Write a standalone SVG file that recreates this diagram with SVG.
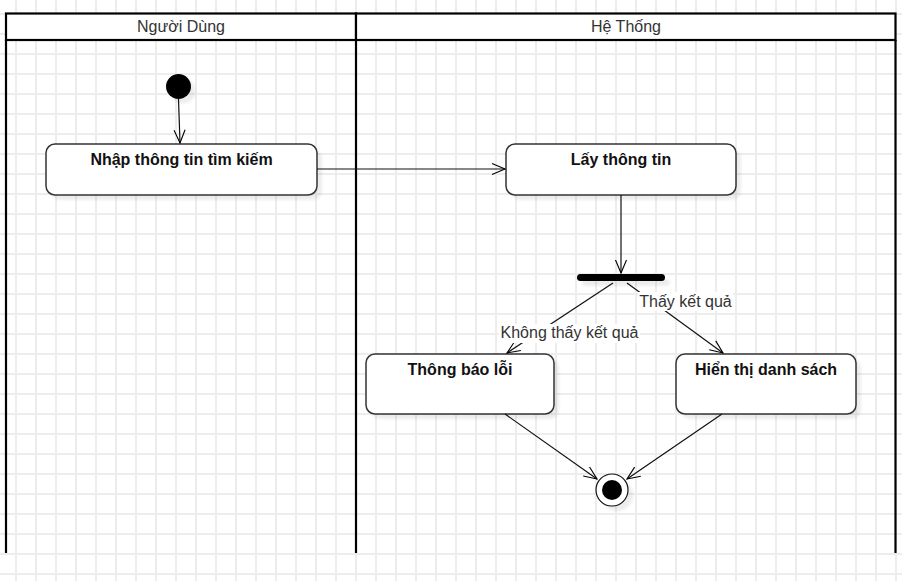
<svg xmlns="http://www.w3.org/2000/svg" width="902" height="581" viewBox="0 0 902 581">
  <defs>
    <pattern id="grid" x="0" y="0" width="20" height="20" patternUnits="userSpaceOnUse">
      <path d="M16,0 V20 M0,14 H20" stroke="#ededed" stroke-width="2" fill="none"/>
    </pattern>
    <filter id="blur" x="-20%" y="-20%" width="140%" height="140%">
      <feGaussianBlur stdDeviation="1.5"/>
    </filter>
    <marker id="open" markerUnits="userSpaceOnUse" markerWidth="16" markerHeight="14" viewBox="0 0 16 14" refX="14" refY="7" orient="auto">
      <path d="M1,1.5 L14,7 L1,12.5" fill="none" stroke="#000" stroke-width="1.1"/>
    </marker>
  </defs>
  <style>
    .lane { fill: none; stroke: #000; stroke-width: 2.2; }
    .hdr { fill: #fff; stroke: #000; stroke-width: 2.2; }
    .hdrtext { font-family: "Liberation Sans", Arial, sans-serif; font-size: 16px; fill: #333; text-anchor: middle; }
    .node { fill: #fff; stroke: #333; stroke-width: 1.5; }
    .shadow { fill: #000; opacity: 0.07; filter: url(#blur); }
    .label { font-family: "Liberation Sans", Arial, sans-serif; font-size: 16px; font-weight: bold; fill: #111; text-anchor: middle; }
    .edge { fill: none; stroke: #111; stroke-width: 1.2; marker-end: url(#open); }
    .elabel { font-family: "Liberation Sans", Arial, sans-serif; font-size: 16px; fill: #333; text-anchor: middle; }
  </style>

  <rect x="0" y="0" width="902" height="581" fill="#fff"/>
  <rect x="0" y="0" width="902" height="581" fill="url(#grid)"/>

  <g id="lanes">
    <rect class="hdr" x="6" y="13.5" width="350" height="26.5"/>
    <rect class="hdr" x="356" y="13.5" width="539.5" height="26.5"/>
    <path class="lane" d="M6,40 V553 M356,40 V553 M895.5,40 V553"/>
    <text class="hdrtext" x="181" y="32">Người Dùng</text>
    <text class="hdrtext" x="626" y="32">Hệ Thống</text>
  </g>

  <g id="start">
    <circle class="shadow" cx="183" cy="91" r="12.5"/>
    <circle cx="178.5" cy="86.5" r="12.5" fill="#000"/>
  </g>

  <g id="n-nhap">
    <rect class="shadow" x="51" y="149" width="271" height="51" rx="9"/>
    <rect class="node" x="46" y="144" width="271" height="51" rx="9"/>
    <text class="label" x="181.5" y="165">Nhập thông tin tìm kiếm</text>
  </g>

  <g id="n-lay">
    <rect class="shadow" x="511" y="149" width="230" height="51" rx="9"/>
    <rect class="node" x="506" y="144" width="230" height="51" rx="9"/>
    <text class="label" x="621" y="165">Lấy thông tin</text>
  </g>

  <g id="fork">
    <rect class="shadow" x="582" y="279" width="88" height="7" rx="3.5"/>
    <rect x="577" y="274" width="88" height="7" rx="3.5" fill="#000"/>
  </g>

  <g id="n-loi">
    <rect class="shadow" x="371" y="359" width="188" height="60" rx="9"/>
    <rect class="node" x="366" y="354" width="188" height="60" rx="9"/>
    <text class="label" x="460" y="375">Thông báo lỗi</text>
  </g>

  <g id="n-hienthi">
    <rect class="shadow" x="681" y="359" width="180" height="60" rx="9"/>
    <rect class="node" x="676" y="354" width="180" height="60" rx="9"/>
    <text class="label" x="766" y="375">Hiển thị danh sách</text>
  </g>

  <g id="end">
    <circle class="shadow" cx="617" cy="495" r="16"/>
    <circle cx="612" cy="490" r="16" fill="#fff" stroke="#111" stroke-width="1.2"/>
    <circle cx="612" cy="490" r="10" fill="#000"/>
  </g>

  <g id="connectors">
    <path class="edge" d="M178.5,99 L180,143"/>
    <path class="edge" d="M317,169 L505,169"/>
    <path class="edge" d="M621,195 L621,273"/>
    <path class="edge" d="M613,283 L507,353"/>
    <path class="edge" d="M627,283 L723,353"/>
    <path class="edge" d="M505,414 L597,479"/>
    <path class="edge" d="M722,414 L627,479"/>
    <rect x="499" y="324" width="141" height="19" fill="#fff"/>
    <text class="elabel" x="569.5" y="338">Không thấy kết quả</text>
    <rect x="638" y="292" width="95" height="19" fill="#fff"/>
    <text class="elabel" x="685.5" y="307">Thấy kết quả</text>
  </g>
</svg>
